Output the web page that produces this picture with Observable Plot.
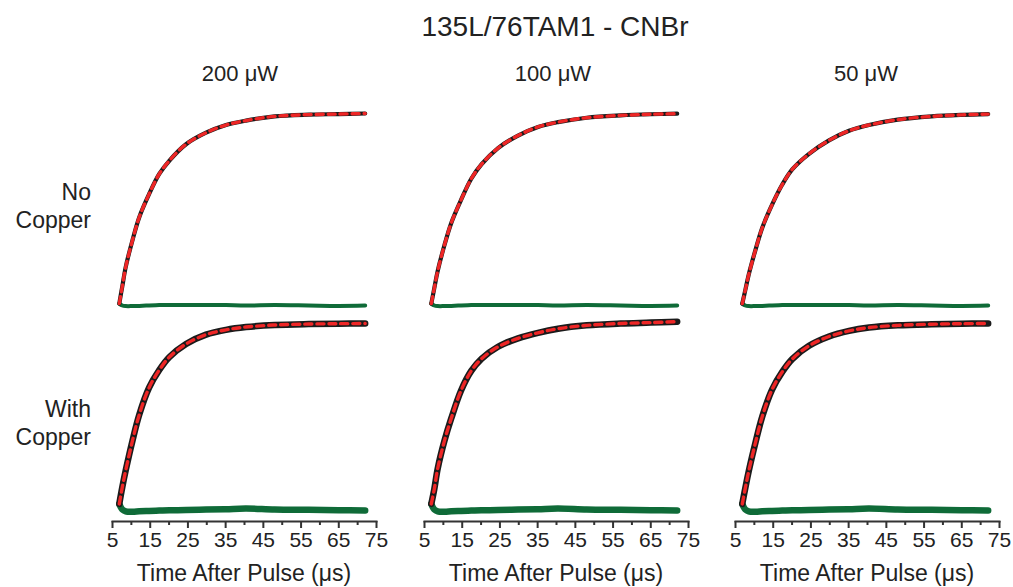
<!DOCTYPE html>
<html>
<head>
<meta charset="utf-8">
<script src="https://cdn.jsdelivr.net/npm/d3@7"></script>
<script src="https://cdn.jsdelivr.net/npm/@observablehq/plot@0.6"></script>
<style>
  body { margin: 0; background: #fff; }
  #fig { position: relative; width: 1013px; height: 587px; overflow: hidden; background: #fff;
         font-family: "Liberation Sans", Arial, sans-serif; color: #222; }
  .lbl { position: absolute; line-height: 1; white-space: nowrap; }
  .row { position: absolute; line-height: 28px; text-align: right; white-space: pre; font-size: 23px; }
</style>
</head>
<body>
<div id="fig"></div>
<script>
// ---- text ----
const title = "135L/76TAM1 - CNBr";
const powers = ["200 μW", "100 μW", "50 μW"];
const conditions = ["No\nCopper", "With\nCopper"];
const xLabel = "Time After Pulse (μs)";

// ---- axis ticks ----
const majorTicks = [5, 15, 25, 35, 45, 55, 65, 75];
const minorTicks = [10, 20, 30, 40, 50, 60, 70];

// ---- time base (μs) ----
const time = [6.8, 7.6, 8.5, 10.3, 12.1, 14.7, 17.4, 20.1, 24.5, 29.8, 35.1, 40.4, 48, 57, 65, 72];

// ---- normalized transient signal (data, with fit overlaid) ----
const noCu200 = [0.01, 0.10, 0.20, 0.34, 0.46, 0.58, 0.685, 0.755, 0.84, 0.90, 0.94, 0.963, 0.985, 0.994, 0.997, 1.0];
const noCu100 = [0.01, 0.09, 0.18, 0.315, 0.43, 0.55, 0.66, 0.735, 0.82, 0.885, 0.93, 0.955, 0.978, 0.99, 0.996, 0.999];
const noCu50  = [0.01, 0.08, 0.16, 0.29, 0.405, 0.525, 0.63, 0.71, 0.79, 0.86, 0.91, 0.94, 0.968, 0.985, 0.993, 0.997];
const cu200   = [0.03, 0.12, 0.21, 0.37, 0.51, 0.655, 0.75, 0.82, 0.89, 0.94, 0.966, 0.981, 0.992, 0.997, 0.999, 1.0];
const cu100   = [0.03, 0.11, 0.22, 0.37, 0.49, 0.64, 0.745, 0.81, 0.875, 0.92, 0.95, 0.972, 0.99, 1.0, 1.005, 1.01];
const cu50    = [0.03, 0.115, 0.205, 0.36, 0.50, 0.645, 0.74, 0.81, 0.88, 0.93, 0.96, 0.978, 0.99, 0.996, 0.999, 1.0];

// ---- residuals ----
const residNoCu = [0.01, 0.0, -0.003, -0.003, -0.002, 0, 0.002, 0.003, 0.002, 0.003, 0.002, 0, 0.002, 0, -0.002, 0];
const residCu   = [0.03, 0.0, -0.01, -0.012, -0.01, -0.008, -0.006, -0.004, -0.003, 0, 0.002, 0.005, 0, -0.002, -0.004, -0.005];

const signals = [[noCu200, noCu100, noCu50], [cu200, cu100, cu50]];
const residuals = [residNoCu, residCu];

const BLACK = "#1b1b1b", RED = "#ee2626", GREEN = "#0f6b38", AXIS = "#333";
const FONT = "'Liberation Sans', Arial, sans-serif";

const fig = document.getElementById("fig");
const colLeft = [92, 404, 715];
const colLabelCenter = [240, 553, 866];
const rowTop = [95, 310];

function addText(txt, cls, css) {
  const d = document.createElement("div");
  d.className = cls;
  d.textContent = txt;
  Object.assign(d.style, css);
  fig.appendChild(d);
  return d;
}

// title
addText(title, "lbl", {left: "110px", width: "890px", textAlign: "center", top: "13px", fontSize: "28px"});
// column headers
powers.forEach((p, i) => addText(p, "lbl", {left: (colLabelCenter[i] - 100) + "px", width: "200px", textAlign: "center", top: "63px", fontSize: "22px"}));
// row headers
addText(conditions[0], "row", {left: "0px", width: "91px", top: "178px"});
addText(conditions[1], "row", {left: "0px", width: "91px", top: "395px"});

function panel(row, col) {
  const vals = signals[row][col];
  const res = residuals[row];
  const data = time.map((t, i) => ({t, v: vals[i], r: res[i]}));
  const bottom = row === 1;
  const svg = Plot.plot({
    width: 304,
    height: bottom ? 277 : 215,
    marginLeft: 20, marginRight: 20, marginTop: 0, marginBottom: bottom ? 66 : 0,
    x: {domain: [5, 75], axis: null},
    y: {domain: [0, 1], range: bottom ? [199, 13] : [210, 18], axis: null},
    style: {background: "transparent", fontFamily: FONT, fontSize: "21px", color: AXIS, overflow: "visible",
            position: "absolute", left: colLeft[col] + "px", top: rowTop[row] + "px"},
    marks: [
      Plot.line(data, {x: "t", y: "r", stroke: GREEN, strokeWidth: bottom ? 6.5 : 4, curve: "catmull-rom"}),
      Plot.line(data, {x: "t", y: "v", stroke: BLACK, strokeWidth: bottom ? 6.5 : 4.2, curve: "catmull-rom"}),
      Plot.line(data, {x: "t", y: "v", stroke: RED, strokeWidth: 3.4, strokeDasharray: "7,5", curve: "catmull-rom"}),
      bottom ? Plot.frame({anchor: "bottom", stroke: AXIS, strokeWidth: 2}) : null,
      bottom ? Plot.axisX(majorTicks, {tickSize: 7, tickPadding: 4, strokeWidth: 2, stroke: AXIS, fill: "#222", fontSize: 21, label: null}) : null,
      bottom ? Plot.axisX(minorTicks, {tickSize: 4, strokeWidth: 2, stroke: AXIS, tickFormat: () => "", label: null}) : null
    ]
  });
  fig.appendChild(svg);
}

for (let r = 0; r < 2; r++) for (let c = 0; c < 3; c++) panel(r, c);

// x axis titles
colLeft.forEach((left) => {
  const center = left + 152;
  addText(xLabel, "lbl", {left: (center - 150) + "px", width: "300px", textAlign: "center", top: "562px", fontSize: "23px"});
});
</script>
</body>
</html>
